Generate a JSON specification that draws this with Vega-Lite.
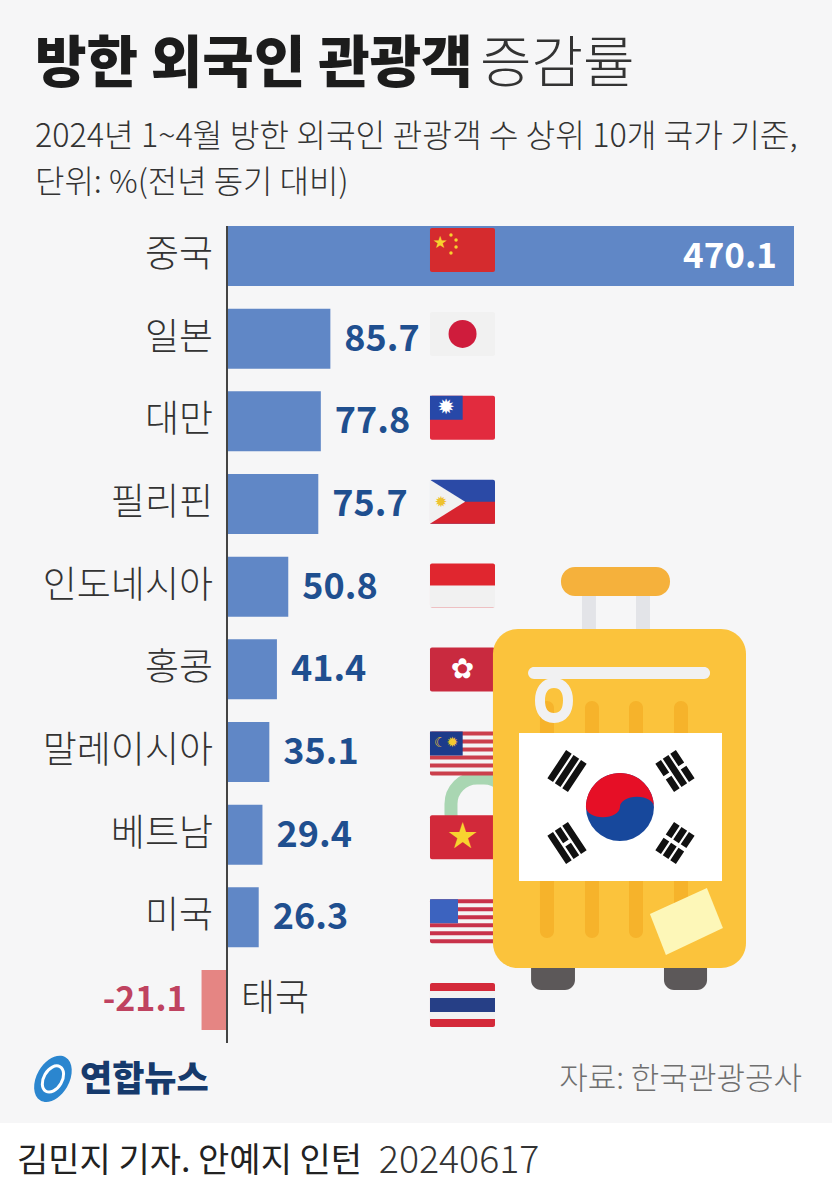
{
  "$schema": "https://vega.github.io/schema/vega-lite/v6.json",
  "description": "방한 외국인 관광객 증감률",
  "width": 832,
  "height": 1200,
  "padding": 0,
  "autosize": {"type": "none"},
  "background": "#f6f6f7",
  "config": {
    "view": {"stroke": null},
    "axis": {"disable": true},
    "text": {"font": "Noto Sans CJK KR"}
  },
  "datasets": {
    "deco": [{"part": "deco"}]
  },
  "data": {
    "values": [
      {"country": "중국", "rank": 1, "value": 470.1, "label": "470.1"},
      {"country": "일본", "rank": 2, "value": 85.7, "label": "85.7"},
      {"country": "대만", "rank": 3, "value": 77.8, "label": "77.8"},
      {"country": "필리핀", "rank": 4, "value": 75.7, "label": "75.7"},
      {"country": "인도네시아", "rank": 5, "value": 50.8, "label": "50.8"},
      {"country": "홍콩", "rank": 6, "value": 41.4, "label": "41.4"},
      {"country": "말레이시아", "rank": 7, "value": 35.1, "label": "35.1"},
      {"country": "베트남", "rank": 8, "value": 29.4, "label": "29.4"},
      {"country": "미국", "rank": 9, "value": 26.3, "label": "26.3"},
      {"country": "태국", "rank": 10, "value": -21.1, "label": "-21.1"}
    ]
  },
  "resolve": {"scale": {"y": "independent"}},
  "layer": [
    {
      "layer": [
        {
          "data": {"name": "deco"},
          "mark": {"type": "rect", "color": "#ffffff"},
          "encoding": {
            "x": {"datum": -188.2, "type": "quantitative", "scale": {"domain": [-188.2, 501.6], "nice": false, "zero": false}},
            "x2": {"datum": 501.6},
            "y": {"datum": 11.487, "type": "quantitative", "scale": {"domain": [-2.0967, 12.419], "reverse": true, "nice": false, "zero": false, "padding": 0}},
            "y2": {"datum": 12.419}
          }
        },
        {
          "data": {"name": "deco"},
          "mark": {"type": "rect", "fillOpacity": 0, "stroke": "#a9d6b2", "strokeWidth": 13, "cornerRadius": 26},
          "encoding": {
            "x": {"datum": 185.7, "type": "quantitative"},
            "x2": {"datum": 234.6},
            "y": {"datum": 7.314, "type": "quantitative"},
            "y2": {"datum": 8.064}
          }
        },
        {
          "mark": {"type": "bar", "orient": "horizontal", "size": 60},
          "encoding": {
            "x": {"field": "value", "type": "quantitative", "stack": null},
            "y": {"field": "rank", "type": "quantitative"},
            "color": {"condition": {"test": "datum.value < 0", "value": "#e58583"}, "value": "#6087c6"}
          }
        },
        {
          "data": {"name": "deco"},
          "mark": {"type": "rule", "color": "#444444", "strokeWidth": 2},
          "encoding": {
            "x": {"datum": 0, "type": "quantitative"},
            "y": {"datum": 0.637, "type": "quantitative"},
            "y2": {"datum": 10.52}
          }
        },
        {
          "transform": [{"filter": "datum.value > 0"}],
          "mark": {"type": "text", "align": "right", "baseline": "middle", "dx": -14, "fontSize": 37, "color": "#333333", "fontWeight": 300},
          "encoding": {
            "x": {"datum": 0, "type": "quantitative"},
            "y": {"field": "rank", "type": "quantitative"},
            "text": {"field": "country"}
          }
        },
        {
          "transform": [{"filter": "datum.value < 0"}],
          "mark": {"type": "text", "align": "left", "baseline": "middle", "dx": 14, "fontSize": 37, "color": "#333333", "fontWeight": 300},
          "encoding": {
            "x": {"datum": 0, "type": "quantitative"},
            "y": {"field": "rank", "type": "quantitative"},
            "text": {"field": "country"}
          }
        },
        {
          "transform": [{"filter": "datum.value > 0 && datum.value < 400"}],
          "mark": {"type": "text", "align": "left", "baseline": "middle", "dx": 14, "dy": 1, "fontSize": 36, "fontWeight": 700, "color": "#1f4f8f"},
          "encoding": {
            "x": {"field": "value", "type": "quantitative"},
            "y": {"field": "rank", "type": "quantitative"},
            "text": {"field": "label"}
          }
        },
        {
          "transform": [{"filter": "datum.value > 400"}],
          "mark": {"type": "text", "align": "right", "baseline": "middle", "dx": -17, "dy": 1, "fontSize": 35, "fontWeight": 700, "color": "#ffffff"},
          "encoding": {
            "x": {"field": "value", "type": "quantitative"},
            "y": {"field": "rank", "type": "quantitative"},
            "text": {"field": "label"}
          }
        },
        {
          "transform": [{"filter": "datum.value < 0"}],
          "mark": {"type": "text", "align": "right", "baseline": "middle", "dx": -15, "dy": 1, "fontSize": 34, "fontWeight": 700, "color": "#bf4260"},
          "encoding": {
            "x": {"field": "value", "type": "quantitative"},
            "y": {"field": "rank", "type": "quantitative"},
            "text": {"field": "label"}
          }
        },
        {
          "data": {"values": [{"label": "방한 외국인 관광객"}]},
          "mark": {"type": "text", "align": "left", "baseline": "middle", "fontSize": 56, "fontWeight": 900, "color": "#1c1c1c"},
          "encoding": {
            "x": {"datum": -159.2, "type": "quantitative"},
            "y": {"datum": -1.311, "type": "quantitative"},
            "text": {"field": "label"}
          }
        },
        {
          "data": {"values": [{"label": "증감률"}]},
          "mark": {"type": "text", "align": "left", "baseline": "middle", "fontSize": 56, "fontWeight": 300, "color": "#333333"},
          "encoding": {
            "x": {"datum": 209.8, "type": "quantitative"},
            "y": {"datum": -1.311, "type": "quantitative"},
            "text": {"field": "label"}
          }
        },
        {
          "data": {"values": [{"label": "2024년 1~4월 방한 외국인 관광객 수 상위 10개 국가 기준,"}]},
          "mark": {"type": "text", "align": "left", "baseline": "middle", "fontSize": 32.3, "fontWeight": 300, "color": "#333333"},
          "encoding": {
            "x": {"datum": -159.2, "type": "quantitative"},
            "y": {"datum": -0.439, "type": "quantitative"},
            "text": {"field": "label"}
          }
        },
        {
          "data": {"values": [{"label": "단위: %(전년 동기 대비)"}]},
          "mark": {"type": "text", "align": "left", "baseline": "middle", "fontSize": 32, "fontWeight": 300, "color": "#333333"},
          "encoding": {
            "x": {"datum": -159.2, "type": "quantitative"},
            "y": {"datum": 0.117, "type": "quantitative"},
            "text": {"field": "label"}
          }
        },
        {
          "data": {"name": "deco"},
          "mark": {"type": "point", "filled": true, "opacity": 1, "strokeWidth": 0, "color": "#2b86cf", "size": 2500, "shape": "M.5,-.866C.811,-.687 .839,-.153 .563,.325C.287,.803 -.189,1.045 -.5,.866C-.811,.687 -.839,.153 -.563,-.325C-.287,-.803 .189,-1.045 .5,-.866Z"},
          "encoding": {
            "x": {"datum": -144.3, "type": "quantitative"},
            "y": {"datum": 10.955, "type": "quantitative"}
          }
        },
        {
          "data": {"name": "deco"},
          "mark": {"type": "point", "filled": false, "opacity": 1, "strokeWidth": 3, "color": "#ffffff", "size": 800, "shape": "M.5,-.866C.811,-.687 .839,-.153 .563,.325C.287,.803 -.189,1.045 -.5,.866C-.811,.687 -.839,.153 -.563,-.325C-.287,-.803 .189,-1.045 .5,-.866Z"},
          "encoding": {
            "x": {"datum": -144.3, "type": "quantitative"},
            "y": {"datum": 10.955, "type": "quantitative"}
          }
        },
        {
          "data": {"values": [{"label": "연합뉴스"}]},
          "mark": {"type": "text", "align": "left", "baseline": "middle", "fontSize": 35, "fontWeight": 900, "color": "#163a6c"},
          "encoding": {
            "x": {"datum": -121.9, "type": "quantitative"},
            "y": {"datum": 10.967, "type": "quantitative"},
            "text": {"field": "label"}
          }
        },
        {
          "data": {"values": [{"label": "자료: 한국관광공사"}]},
          "mark": {"type": "text", "align": "right", "baseline": "middle", "fontSize": 31, "fontWeight": 300, "color": "#6f6f6f"},
          "encoding": {
            "x": {"datum": 476.7, "type": "quantitative"},
            "y": {"datum": 10.967, "type": "quantitative"},
            "text": {"field": "label"}
          }
        },
        {
          "data": {"values": [{"label": "김민지 기자. 안예지 인턴"}]},
          "mark": {"type": "text", "align": "left", "baseline": "middle", "fontSize": 34, "fontWeight": 400, "color": "#222222"},
          "encoding": {
            "x": {"datum": -174.1, "type": "quantitative"},
            "y": {"datum": 11.959, "type": "quantitative"},
            "text": {"field": "label"}
          }
        },
        {
          "data": {"values": [{"label": "20240617"}]},
          "mark": {"type": "text", "align": "left", "baseline": "middle", "fontSize": 37.5, "fontWeight": 300, "color": "#333333"},
          "encoding": {
            "x": {"datum": 125.9, "type": "quantitative"},
            "y": {"datum": 11.959, "type": "quantitative"},
            "text": {"field": "label"}
          }
        }
      ]
    },
    {
      "encoding": {
        "y": {"field": "rank", "type": "quantitative", "scale": {"domain": [-1.98, 12.323], "reverse": true, "nice": false, "zero": false, "padding": 0}}
      },
      "layer": [
        {
          "mark": {"type": "bar", "orient": "horizontal", "size": 44, "cornerRadius": 2},
          "encoding": {
            "x": {"datum": 168.3, "type": "quantitative", "scale": {"domain": [-188.2, 501.6], "nice": false, "zero": false}},
            "x2": {"datum": 222.2},
            "color": {
              "field": "country",
              "type": "nominal",
              "legend": null,
              "scale": {
                "domain": ["중국", "일본", "대만", "필리핀", "인도네시아", "홍콩", "말레이시아", "베트남", "미국", "태국"],
                "range": ["#d52b2e", "#f1f1f1", "#e22b3e", "#2b4aa6", "#e0262f", "#c92a3f", "#cb3f4c", "#d2293a", "#c8324a", "#d42a3a"]
              }
            }
          }
        },
        {
          "transform": [{"filter": "datum.country == '필리핀' || datum.country == '인도네시아'"}],
          "mark": {"type": "bar", "orient": "horizontal", "size": 22, "yOffset": 11},
          "encoding": {
            "x": {"datum": 168.3, "type": "quantitative"},
            "x2": {"datum": 222.2},
            "color": {"condition": {"test": "datum.country == '필리핀'", "value": "#d8242f"}, "value": "#f1f1f1"}
          }
        },
        {
          "transform": [{"filter": "datum.country == '태국'"}],
          "mark": {"type": "bar", "orient": "horizontal", "size": 28, "color": "#f1f1f1"},
          "encoding": {"x": {"datum": 168.3, "type": "quantitative"}, "x2": {"datum": 222.2}}
        },
        {
          "transform": [{"filter": "datum.country == '태국'"}],
          "mark": {"type": "bar", "orient": "horizontal", "size": 14, "color": "#263f86"},
          "encoding": {"x": {"datum": 168.3, "type": "quantitative"}, "x2": {"datum": 222.2}}
        },
        {
          "transform": [{"filter": "datum.country == '미국' || datum.country == '말레이시아'"}],
          "mark": {"type": "bar", "orient": "horizontal", "size": 4, "yOffset": -16, "color": "#f4f4f4"},
          "encoding": {"x": {"datum": 168.3, "type": "quantitative"}, "x2": {"datum": 222.2}}
        },
        {
          "transform": [{"filter": "datum.country == '미국' || datum.country == '말레이시아'"}],
          "mark": {"type": "bar", "orient": "horizontal", "size": 4, "yOffset": -8, "color": "#f4f4f4"},
          "encoding": {"x": {"datum": 168.3, "type": "quantitative"}, "x2": {"datum": 222.2}}
        },
        {
          "transform": [{"filter": "datum.country == '미국' || datum.country == '말레이시아'"}],
          "mark": {"type": "bar", "orient": "horizontal", "size": 4, "yOffset": 0, "color": "#f4f4f4"},
          "encoding": {"x": {"datum": 168.3, "type": "quantitative"}, "x2": {"datum": 222.2}}
        },
        {
          "transform": [{"filter": "datum.country == '미국' || datum.country == '말레이시아'"}],
          "mark": {"type": "bar", "orient": "horizontal", "size": 4, "yOffset": 8, "color": "#f4f4f4"},
          "encoding": {"x": {"datum": 168.3, "type": "quantitative"}, "x2": {"datum": 222.2}}
        },
        {
          "transform": [{"filter": "datum.country == '미국' || datum.country == '말레이시아'"}],
          "mark": {"type": "bar", "orient": "horizontal", "size": 4, "yOffset": 16, "color": "#f4f4f4"},
          "encoding": {"x": {"datum": 168.3, "type": "quantitative"}, "x2": {"datum": 222.2}}
        },
        {
          "transform": [{"filter": "datum.country == '미국'"}],
          "mark": {"type": "bar", "orient": "horizontal", "size": 24, "yOffset": -10, "color": "#3c63bf"},
          "encoding": {"x": {"datum": 168.3, "type": "quantitative"}, "x2": {"datum": 191.5}}
        },
        {
          "transform": [{"filter": "datum.country == '말레이시아' || datum.country == '대만'"}],
          "mark": {"type": "bar", "orient": "horizontal", "size": 24, "yOffset": -10},
          "encoding": {
            "x": {"datum": 168.3, "type": "quantitative"},
            "x2": {"datum": 195.4},
            "color": {"condition": {"test": "datum.country == '대만'", "value": "#2748a8"}, "value": "#1c3b8b"}
          }
        },
        {
          "transform": [{"filter": "datum.country == '필리핀'"}],
          "mark": {"type": "point", "filled": true, "opacity": 1, "strokeWidth": 0, "color": "#f1f1f1", "size": 1936, "shape": "M-1,-1L-1,1L.6,0Z"},
          "encoding": {"x": {"datum": 186.5, "type": "quantitative"}}
        },
        {
          "transform": [{"filter": "datum.country == '필리핀'"}],
          "mark": {"type": "text", "text": "✹", "font": "DejaVu Sans", "baseline": "middle", "fontSize": 15, "color": "#eec22f"},
          "encoding": {"x": {"datum": 177.5, "type": "quantitative"}}
        },
        {
          "transform": [{"filter": "datum.country == '일본'"}],
          "mark": {"type": "point", "filled": true, "opacity": 1, "strokeWidth": 0, "color": "#cf1c3c", "size": 784},
          "encoding": {"x": {"datum": 195.3, "type": "quantitative"}}
        },
        {
          "transform": [{"filter": "datum.country == '대만'"}],
          "mark": {"type": "text", "text": "✹", "font": "DejaVu Sans", "baseline": "middle", "fontSize": 21, "color": "#ffffff", "yOffset": -10},
          "encoding": {"x": {"datum": 181.7, "type": "quantitative"}}
        },
        {
          "transform": [{"filter": "datum.country == '중국'"}],
          "mark": {"type": "text", "text": "★", "font": "DejaVu Sans", "baseline": "middle", "fontSize": 17, "color": "#f7d22e", "yOffset": -7},
          "encoding": {"x": {"datum": 176.6, "type": "quantitative"}}
        },
        {
          "transform": [{"filter": "datum.country == '중국'"}],
          "mark": {"type": "point", "filled": true, "opacity": 1, "strokeWidth": 0, "color": "#f7d22e", "size": 12, "yOffset": -15},
          "encoding": {"x": {"datum": 185.7, "type": "quantitative"}}
        },
        {
          "transform": [{"filter": "datum.country == '중국'"}],
          "mark": {"type": "point", "filled": true, "opacity": 1, "strokeWidth": 0, "color": "#f7d22e", "size": 12, "yOffset": -10},
          "encoding": {"x": {"datum": 189.9, "type": "quantitative"}}
        },
        {
          "transform": [{"filter": "datum.country == '중국'"}],
          "mark": {"type": "point", "filled": true, "opacity": 1, "strokeWidth": 0, "color": "#f7d22e", "size": 12, "yOffset": -3},
          "encoding": {"x": {"datum": 189.9, "type": "quantitative"}}
        },
        {
          "transform": [{"filter": "datum.country == '중국'"}],
          "mark": {"type": "point", "filled": true, "opacity": 1, "strokeWidth": 0, "color": "#f7d22e", "size": 12, "yOffset": 3},
          "encoding": {"x": {"datum": 185.7, "type": "quantitative"}}
        },
        {
          "transform": [{"filter": "datum.country == '베트남'"}],
          "mark": {"type": "text", "text": "★", "font": "DejaVu Sans", "baseline": "middle", "fontSize": 36, "color": "#f8d32f"},
          "encoding": {"x": {"datum": 195.3, "type": "quantitative"}}
        },
        {
          "transform": [{"filter": "datum.country == '홍콩'"}],
          "mark": {"type": "text", "text": "✿", "font": "DejaVu Sans", "baseline": "middle", "fontSize": 28, "color": "#ffffff"},
          "encoding": {"x": {"datum": 195.3, "type": "quantitative"}}
        },
        {
          "transform": [{"filter": "datum.country == '말레이시아'"}],
          "mark": {"type": "text", "text": "☾✹", "font": "DejaVu Sans", "baseline": "middle", "fontSize": 14, "color": "#f3c92f", "yOffset": -10},
          "encoding": {"x": {"datum": 181.7, "type": "quantitative"}}
        }
      ]
    },
    {
      "data": {"name": "deco"},
      "layer": [
        {
          "mark": {"type": "rect", "color": "#e3e4e8"},
          "encoding": {
            "x": {"datum": 294.3, "type": "quantitative"},
            "x2": {"datum": 305.9},
            "y": {"datum": 5.113, "type": "quantitative", "scale": {"domain": [-2.0967, 12.419], "reverse": true, "nice": false, "zero": false, "padding": 0}},
            "y2": {"datum": 5.6}
          }
        },
        {
          "mark": {"type": "rect", "color": "#e3e4e8"},
          "encoding": {"x": {"datum": 339.1, "type": "quantitative"}, "x2": {"datum": 350.7}, "y": {"datum": 5.113, "type": "quantitative"}, "y2": {"datum": 5.6}}
        },
        {
          "mark": {"type": "rect", "color": "#f5b13c", "cornerRadius": 14},
          "encoding": {"x": {"datum": 276.9, "type": "quantitative"}, "x2": {"datum": 367.3}, "y": {"datum": 4.762, "type": "quantitative"}, "y2": {"datum": 5.113}}
        },
        {
          "mark": {"type": "rect", "color": "#5c5859", "cornerRadius": 10},
          "encoding": {"x": {"datum": 252.1, "type": "quantitative"}, "x2": {"datum": 288.5}, "y": {"datum": 9.455, "type": "quantitative"}, "y2": {"datum": 9.879}}
        },
        {
          "mark": {"type": "rect", "color": "#5c5859", "cornerRadius": 10},
          "encoding": {"x": {"datum": 362.3, "type": "quantitative"}, "x2": {"datum": 398.0}, "y": {"datum": 9.455, "type": "quantitative"}, "y2": {"datum": 9.879}}
        },
        {
          "mark": {"type": "rect", "color": "#fbc33c", "cornerRadius": 25},
          "encoding": {"x": {"datum": 220.5, "type": "quantitative"}, "x2": {"datum": 430.3}, "y": {"datum": 5.512, "type": "quantitative"}, "y2": {"datum": 9.613}}
        },
        {
          "mark": {"type": "rect", "color": "#f6b32b", "cornerRadius": 7},
          "encoding": {"x": {"datum": 259.5, "type": "quantitative"}, "x2": {"datum": 271.1}, "y": {"datum": 6.383, "type": "quantitative"}, "y2": {"datum": 9.25}}
        },
        {
          "mark": {"type": "rect", "color": "#f6b32b", "cornerRadius": 7},
          "encoding": {"x": {"datum": 296.8, "type": "quantitative"}, "x2": {"datum": 308.4}, "y": {"datum": 6.383, "type": "quantitative"}, "y2": {"datum": 9.25}}
        },
        {
          "mark": {"type": "rect", "color": "#f6b32b", "cornerRadius": 7},
          "encoding": {"x": {"datum": 333.3, "type": "quantitative"}, "x2": {"datum": 344.9}, "y": {"datum": 6.383, "type": "quantitative"}, "y2": {"datum": 9.25}}
        },
        {
          "mark": {"type": "rect", "color": "#f6b32b", "cornerRadius": 7},
          "encoding": {"x": {"datum": 370.6, "type": "quantitative"}, "x2": {"datum": 382.2}, "y": {"datum": 6.383, "type": "quantitative"}, "y2": {"datum": 9.25}}
        },
        {
          "mark": {"type": "rect", "color": "#f1f1f2", "cornerRadius": 6},
          "encoding": {"x": {"datum": 249.6, "type": "quantitative"}, "x2": {"datum": 400.5}, "y": {"datum": 5.972, "type": "quantitative"}, "y2": {"datum": 6.117}}
        },
        {
          "mark": {"type": "point", "filled": false, "opacity": 1, "strokeWidth": 10, "color": "#f1f1f2", "size": 1225, "shape": "M0,-1C.55,-1 .8,-.55 .8,0C.8,.55 .55,1 0,1C-.55,1 -.8,.55 -.8,0C-.8,-.55 -.55,-1 0,-1Z"},
          "encoding": {"x": {"datum": 271.1, "type": "quantitative"}, "y": {"datum": 6.377, "type": "quantitative"}}
        },
        {
          "mark": {"type": "rect", "color": "#ffffff"},
          "encoding": {"x": {"datum": 242.1, "type": "quantitative"}, "x2": {"datum": 410.4}, "y": {"datum": 6.77, "type": "quantitative"}, "y2": {"datum": 8.56}}
        },
        {
          "mark": {"type": "point", "filled": true, "opacity": 1, "strokeWidth": 0, "color": "#17489c", "size": 4624},
          "encoding": {"x": {"datum": 325.8, "type": "quantitative"}, "y": {"datum": 7.665, "type": "quantitative"}}
        },
        {
          "mark": {"type": "point", "filled": true, "opacity": 1, "strokeWidth": 0, "color": "#e60f26", "size": 4624, "shape": "M-1,0C-1,-.55 -.55,-1 0,-1C.55,-1 1,-.55 1,0C1,-.17 .776,-.3 .5,-.3C.224,-.3 0,-.17 0,0C0,.17 -.224,.3 -.5,.3C-.776,.3 -1,.17 -1,0Z"},
          "encoding": {"x": {"datum": 325.8, "type": "quantitative"}, "y": {"datum": 7.665, "type": "quantitative"}}
        },
        {
          "mark": {"type": "point", "filled": true, "opacity": 1, "strokeWidth": 0, "color": "#111111", "size": 1600, "shape": "M-.982,.365L-.7,.552L.235,-.86L-.047,-1.047ZM-.609,.612L-.326,.799L.609,-.612L.326,-.799ZM-.235,.86L.047,1.047L.982,-.365L.7,-.552Z"},
          "encoding": {"x": {"datum": 281.9, "type": "quantitative"}, "y": {"datum": 7.23, "type": "quantitative"}}
        },
        {
          "mark": {"type": "point", "filled": true, "opacity": 1, "strokeWidth": 0, "color": "#111111", "size": 1600, "shape": "M.982,.365L.7,.552L.287,-.071L.57,-.258ZM.46,-.424L.177,-.237L-.235,-.86L.047,-1.047ZM.609,.612L.326,.799L-.609,-.612L-.326,-.799ZM.235,.86L-.047,1.047L-.46,.424L-.177,.237ZM-.287,.071L-.57,.258L-.982,-.365L-.7,-.552Z"},
          "encoding": {"x": {"datum": 371.4, "type": "quantitative"}, "y": {"datum": 7.23, "type": "quantitative"}}
        },
        {
          "mark": {"type": "point", "filled": true, "opacity": 1, "strokeWidth": 0, "color": "#111111", "size": 1600, "shape": "M.982,.365L.7,.552L-.235,-.86L.047,-1.047ZM.609,.612L.326,.799L-.086,.177L.196,-.011ZM.086,-.177L-.196,.011L-.609,-.612L-.326,-.799ZM.235,.86L-.047,1.047L-.982,-.365L-.7,-.552Z"},
          "encoding": {"x": {"datum": 281.9, "type": "quantitative"}, "y": {"datum": 8.1, "type": "quantitative"}}
        },
        {
          "mark": {"type": "point", "filled": true, "opacity": 1, "strokeWidth": 0, "color": "#111111", "size": 1600, "shape": "M-.982,.365L-.7,.552L-.287,-.071L-.57,-.258ZM-.46,-.424L-.177,-.237L.235,-.86L-.047,-1.047ZM-.609,.612L-.326,.799L.086,.177L-.196,-.011ZM-.086,-.177L.196,.011L.609,-.612L.326,-.799ZM-.235,.86L.047,1.047L.46,.424L.177,.237ZM.287,.071L.57,.258L.982,-.365L.7,-.552Z"},
          "encoding": {"x": {"datum": 371.4, "type": "quantitative"}, "y": {"datum": 8.1, "type": "quantitative"}}
        },
        {
          "mark": {"type": "point", "filled": true, "opacity": 1, "strokeWidth": 0, "color": "#fdf7b8", "size": 6400, "shape": "M-.9125,-.1875L.5125,-.8375L.9125,.1625L-.5125,.8375Z"},
          "encoding": {"x": {"datum": 380.9, "type": "quantitative"}, "y": {"datum": 9.05, "type": "quantitative"}}
        }
      ]
    }
  ]
}
